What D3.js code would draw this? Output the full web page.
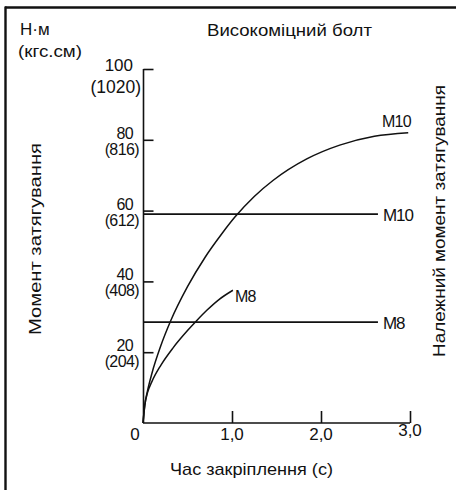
<!DOCTYPE html>
<html>
<head>
<meta charset="utf-8">
<script src="https://cdn.jsdelivr.net/npm/d3@7"></script>
<style>
  body { margin: 0; background: #fff; }
  svg { display: block; }
  text { font-family: "Liberation Sans", Arial, sans-serif; fill: #111; }
</style>
</head>
<body>
<div id="content"></div>
<script>
// chart data
var xTicks = [0, 1, 2, 3],
    xTickLabels = ['0', '1,0', '2,0', '3,0'],
    yTicks = [20, 40, 60, 80, 100],
    yTickLabels = ['20', '40', '60', '80', '100'],
    yTickSubLabels = ['(204)', '(408)', '(612)', '(816)', '(1020)'],

    // time (s) / torque (N·m) for each tightening curve
    m10Time = [0, 0.02, 0.05, 0.1, 0.2, 0.31, 0.5, 0.7, 0.89, 1.03, 1.25, 1.46, 1.84, 2.21, 2.6, 2.98],
    m10Torque = [0, 5, 9, 14, 21.8, 28.8, 38.5, 46.9, 53.6, 58.1, 64, 68.5, 74.6, 78.5, 81, 82],
    m8Time = [0, 0.02, 0.05, 0.1, 0.2, 0.34, 0.5, 0.61, 0.72, 0.85, 1.01],
    m8Torque = [0, 5, 8.5, 11.7, 16.3, 21.3, 26.1, 29.1, 31.9, 34.8, 37.5],

    // proper tightening torque lines
    properNames = ['M10', 'M8'],
    properTorque = [59, 28.5],
    properEnd = 2.64;

var width = 456, height = 490,
    x = d3.scaleLinear().domain([0, 3]).range([143, 410]),
    y = d3.scaleLinear().domain([0, 100]).range([423, 69]);

var svg = d3.select('#content').append('svg')
    .attr('width', width)
    .attr('height', height);

// frame (top + left)
svg.append('line').attr('x1', 5).attr('x2', width).attr('y1', 7.5).attr('y2', 7.5)
    .attr('stroke', '#111').attr('stroke-width', 2.4);
svg.append('line').attr('x1', 5.5).attr('x2', 5.5).attr('y1', 6.5).attr('y2', height)
    .attr('stroke', '#111').attr('stroke-width', 2.4);

// x axis
var xAxis = d3.axisTop(x).tickValues(xTicks.slice(1)).tickSize(12).tickFormat('');
var gx = svg.append('g').attr('transform', 'translate(0,423)').call(xAxis);
gx.select('.domain').attr('d', 'M' + x(0) + ',0H' + x(3));
gx.selectAll('line, path').attr('stroke', '#111').attr('stroke-width', 1.6);

// y axis
var yAxis = d3.axisRight(y).tickValues(yTicks).tickSize(10).tickFormat('');
var gy = svg.append('g').attr('transform', 'translate(143.5,0)').call(yAxis);
gy.select('.domain').attr('d', 'M0,' + y(100) + 'V' + y(0));
gy.selectAll('line, path').attr('stroke', '#111').attr('stroke-width', 1.6);

// x tick labels
svg.selectAll('text.xt')
    .data(xTicks)
    .enter().append('text')
    .attr('class', 'xt')
    .attr('x', function(d, i){ return i === 0 ? x(d) - 8 : x(d); })
    .attr('y', function(d, i){ return i === 3 ? 436 : 440; })
    .attr('text-anchor', 'middle')
    .attr('font-size', 17)
    .text(function(d, i){ return xTickLabels[i]; });

// y tick labels (N·m over kgf·cm)
var yl = svg.selectAll('g.yt')
    .data(yTicks)
    .enter().append('g')
    .attr('class', 'yt');
yl.append('text')
    .attr('x', 133)
    .attr('y', function(d){ return d === 100 ? y(d) + 2 : y(d) - 1; })
    .attr('text-anchor', 'end')
    .attr('font-size', function(d){ return d === 100 ? 17 : 16; })
    .attr('letter-spacing', function(d){ return d === 100 ? 0 : -0.6; })
    .text(function(d, i){ return yTickLabels[i]; });
yl.append('text')
    .attr('x', function(d){ return d === 100 ? 141 : 139; })
    .attr('y', function(d){ return d === 100 ? y(d) + 24 : y(d) + 15; })
    .attr('text-anchor', 'end')
    .attr('font-size', function(d){ return d === 100 ? 17.5 : 16; })
    .attr('letter-spacing', function(d){ return d === 100 ? 0 : -0.6; })
    .text(function(d, i){ return yTickSubLabels[i]; });

// proper torque lines
properTorque.forEach(function(v, i){
    svg.append('line')
        .attr('x1', x(0)).attr('x2', x(properEnd))
        .attr('y1', y(v)).attr('y2', y(v))
        .attr('stroke', '#111').attr('stroke-width', 1.6);
    svg.append('text')
        .attr('x', x(properEnd) + 5)
        .attr('y', y(v) + 7)
        .attr('font-size', 17)
        .attr('letter-spacing', -1)
        .text(properNames[i]);
});

// tightening curves
var line = d3.line()
    .x(function(d){ return x(d[0]); })
    .y(function(d){ return y(d[1]); })
    .curve(d3.curveMonotoneX);

var m10 = d3.zip(m10Time, m10Torque),
    m8 = d3.zip(m8Time, m8Torque);

[m10, m8].forEach(function(pts){
    svg.append('path')
        .datum(pts)
        .attr('d', line)
        .attr('fill', 'none')
        .attr('stroke', '#111')
        .attr('stroke-width', 1.5);
});

svg.append('text').attr('x', 382).attr('y', 127).attr('font-size', 16)
    .attr('letter-spacing', -0.8).text('M10');
svg.append('text').attr('x', 235).attr('y', 302).attr('font-size', 16)
    .attr('letter-spacing', -0.8).text('M8');

// titles
svg.append('text').attr('x', 20).attr('y', 35).attr('font-size', 17).text('Н·м');
svg.append('text').attr('x', 18).attr('y', 57).attr('font-size', 17)
    .attr('textLength', 64).attr('lengthAdjust', 'spacingAndGlyphs').text('(кгс.см)');
svg.append('text').attr('x', 207).attr('y', 36).attr('font-size', 17)
    .attr('textLength', 165).attr('lengthAdjust', 'spacingAndGlyphs').text('Високоміцний болт');
svg.append('text').attr('x', 170).attr('y', 475).attr('font-size', 17)
    .attr('textLength', 163).attr('lengthAdjust', 'spacingAndGlyphs').text('Час закріплення (с)');
svg.append('text')
    .attr('transform', 'translate(41,335) rotate(-90)')
    .attr('font-size', 17)
    .attr('textLength', 192).attr('lengthAdjust', 'spacingAndGlyphs')
    .text('Момент затягування');
svg.append('text')
    .attr('transform', 'translate(445,357) rotate(-90)')
    .attr('font-size', 17)
    .attr('textLength', 272).attr('lengthAdjust', 'spacingAndGlyphs')
    .text('Належний момент затягування');
</script>
</body>
</html>
